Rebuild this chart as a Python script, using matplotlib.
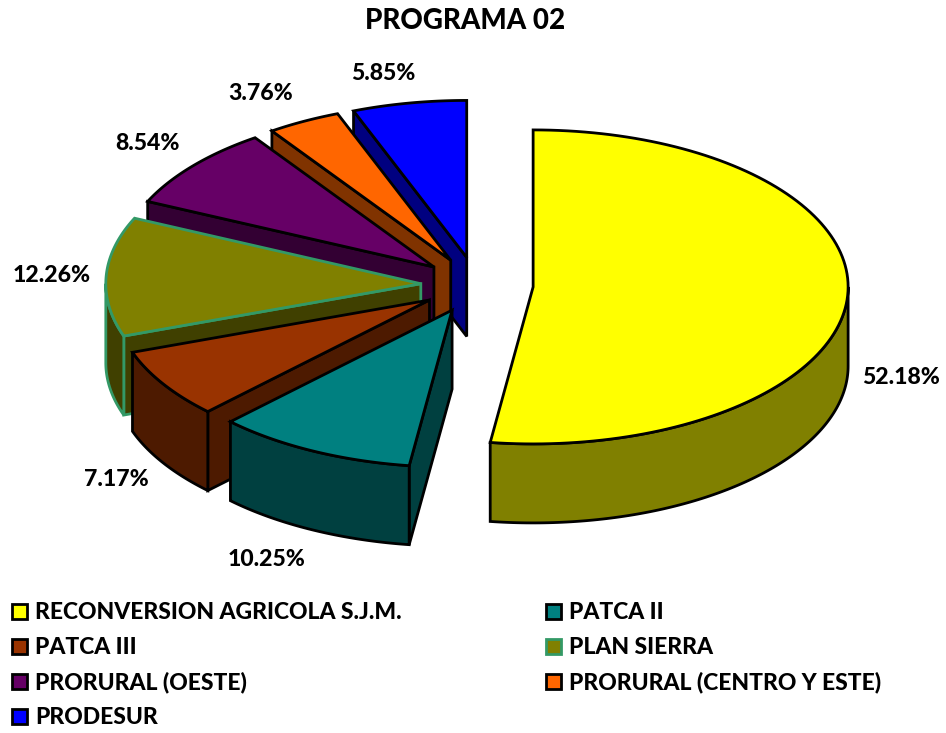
import numpy as np
import matplotlib
matplotlib.use("Agg")
import matplotlib.pyplot as plt
from matplotlib.patches import Polygon, Rectangle

plt.rcParams['font.family'] = ['Lato', 'DejaVu Sans']

title = "PROGRAMA 02"
categories = ["RECONVERSION AGRICOLA S.J.M.", "PATCA II", "PATCA III", "PLAN SIERRA",
              "PRORURAL (OESTE)", "PRORURAL (CENTRO Y ESTE)", "PRODESUR"]
values = [52.18, 10.25, 7.17, 12.26, 8.54, 3.76, 5.85]
top_colors = ["#FFFF00", "#008080", "#993300", "#808000", "#660066", "#FF6600", "#0000FF"]
side_colors = ["#808000", "#004040", "#4D1A00", "#404000", "#330033", "#803300", "#000080"]
edge_colors = ["black", "black", "black", "#339966", "black", "black", "black"]
label_pos = [(901, 376), (267, 558), (116, 478), (52, 273), (147, 141), (261, 91), (383, 72)]

CX, CY, RX, RY, DEPTH, EXPLODE = 477.0, 285.0, 315.0, 157.0, 79.0, 0.1786

fig = plt.figure(figsize=(9.46, 7.33), dpi=100)
ax = fig.add_axes([0, 0, 1, 1])
ax.set_xlim(0, 946)
ax.set_ylim(733, 0)
ax.axis("off")

vals = np.array(values, dtype=float)
edges = np.concatenate([[0], np.cumsum(vals)]) / vals.sum() * 360.0


def point(apex, deg):
    t = np.radians(deg)
    return np.array([apex[0] + RX * np.sin(t), apex[1] - RY * np.cos(t)])


def arc(apex, a, b):
    return np.array([point(apex, d) for d in np.linspace(a, b, 120)])


# Painter's order: from the back slice (last) round to the front, yellow on top
order = [6, 5, 4, 3, 2, 1, 0]
z = 2
for i in order:
    a0, a1 = edges[i], edges[i + 1]
    mid = np.radians((a0 + a1) / 2)
    apex = np.array([CX + EXPLODE * RX * np.sin(mid), CY - EXPLODE * RY * np.cos(mid)])
    down = np.array([0, DEPTH])
    style = dict(edgecolor=edge_colors[i], linewidth=2.0, joinstyle="miter")

    # Cut face on the start side is visible when it turns towards the viewer
    if np.sin(np.radians(a0)) < -1e-6:
        p = point(apex, a0)
        ax.add_patch(Polygon([apex, p, p + down, apex + down], closed=True,
                             facecolor=side_colors[i], zorder=z, **style))
        z += 1
    if np.sin(np.radians(a1)) > 1e-6:
        p = point(apex, a1)
        ax.add_patch(Polygon([apex, p, p + down, apex + down], closed=True,
                             facecolor=side_colors[i], zorder=z, **style))
        z += 1
    # Outer wall: only the part of the rim on the near half of the ellipse
    lo, hi = max(a0, 90.0), min(a1, 270.0)
    if hi > lo:
        rim = arc(apex, lo, hi)
        ax.add_patch(Polygon(np.vstack([rim, (rim + down)[::-1]]), closed=True,
                             facecolor=side_colors[i], zorder=z, **style))
        z += 1
    # Top surface
    ax.add_patch(Polygon(np.vstack([[apex], arc(apex, a0, a1)]), closed=True,
                         facecolor=top_colors[i], zorder=z, **style))
    z += 1

for v, (x, y) in zip(values, label_pos):
    ax.text(x, y, f"{v:.2f}%", ha="center", va="center_baseline", fontsize=16.6,
            fontweight=900, color="black", zorder=50)

ax.text(465, 18.5, title, ha="center", va="center_baseline", fontsize=20,
        fontweight=900, color="black", zorder=50)

# Legend, filled row by row in two columns
col_x = [12, 546]
row_y = [610.5, 645.5, 680.5, 715.5]
for i, name in enumerate(categories):
    x = col_x[i % 2]
    y = row_y[i // 2]
    ax.add_patch(Rectangle((x, y - 7), 15, 15, facecolor=top_colors[i],
                           edgecolor=edge_colors[i], linewidth=2.0, zorder=50))
    ax.text(x + 23, y, name, ha="left", va="center_baseline", fontsize=16.5,
            fontweight=900, color="black", zorder=50)

fig.savefig("out.png", dpi=100, facecolor="white")
